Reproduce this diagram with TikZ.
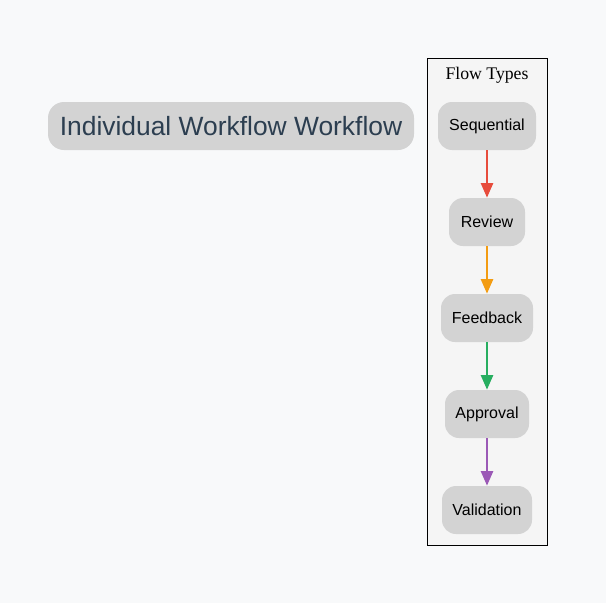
\documentclass[tikz,border=0pt]{standalone}
\usepackage{fontspec}
\setmainfont{Liberation Serif}
\setsansfont{Liberation Sans}
\usepackage{xcolor}
\usetikzlibrary{arrows.meta}

\definecolor{bgcol}{HTML}{F8F9FA}
\definecolor{clustercol}{HTML}{F5F5F5}
\definecolor{nodegray}{HTML}{D3D3D3}
\definecolor{titletext}{HTML}{2C3E50}
\definecolor{seqred}{HTML}{E74C3C}
\definecolor{revorange}{HTML}{F39C12}
\definecolor{fbgreen}{HTML}{27AE60}
\definecolor{apppurple}{HTML}{9B59B6}

\begin{document}
\begin{tikzpicture}
	[
		x=0.75pt,y=-0.75pt,
		flowbox/.style={fill=nodegray,rounded corners=10.5pt,minimum height=36pt,inner sep=0pt,font=\sffamily\fontsize{12}{14}\selectfont},
		flowedge/.style={-{Triangle[length=11pt,width=9pt]},line width=1.9pt}
	]

	% Draw background.
	\fill[bgcol] (0,0) rectangle (606,603);
	\useasboundingbox (0,0) rectangle (606,603);

	% Draw title.
	\node[flowbox,minimum width=274.5pt,minimum height=36pt,rounded corners=12pt,text=titletext,font=\sffamily\fontsize{19.8}{22}\selectfont] (title) at (231,126) {Individual Workflow Workflow};

	% Draw cluster.
	\filldraw[draw=black,fill=clustercol,line width=0.75pt] (427,58) rectangle (547,545);
	\node[font=\fontsize{13.3}{15}\selectfont] (flowtypes) at (487,75) {Flow Types};

	% Draw nodes.
	\node[flowbox,minimum width=73.5pt] (sequential) at (487,126) {Sequential};
	\node[flowbox,minimum width=57pt] (review) at (487,222) {Review};
	\node[flowbox,minimum width=69pt] (feedback) at (487,318) {Feedback};
	\node[flowbox,minimum width=63pt] (approval) at (487,414) {Approval};
	\node[flowbox,minimum width=67.5pt] (validation) at (487,510) {Validation};

	% Draw edges.
	\draw[flowedge,seqred] (sequential) -- (review);
	\draw[flowedge,revorange] (review) -- (feedback);
	\draw[flowedge,fbgreen] (feedback) -- (approval);
	\draw[flowedge,apppurple] (approval) -- (validation);
\end{tikzpicture}
\end{document}
